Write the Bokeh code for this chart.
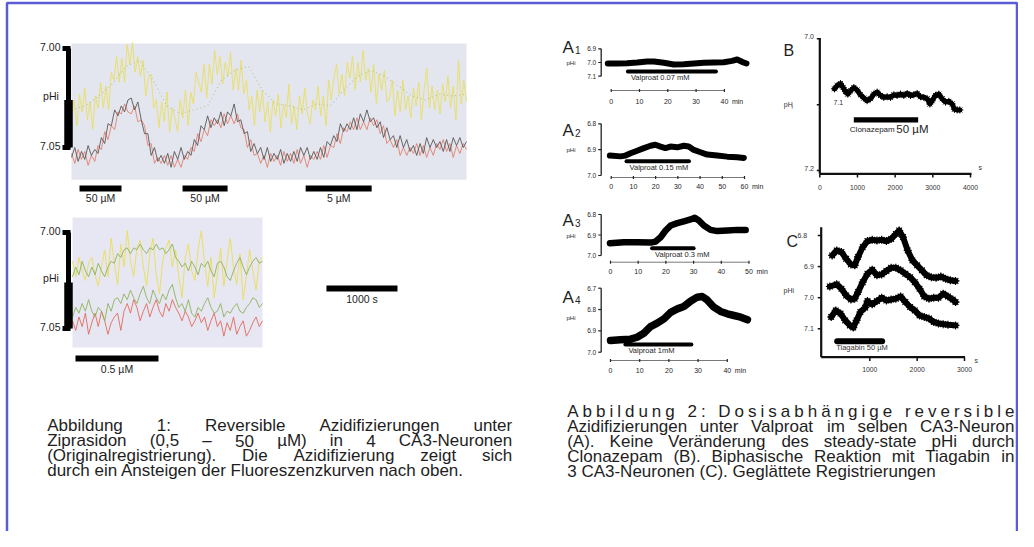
import numpy as np
from bokeh.plotting import figure
from bokeh.models import Range1d
from bokeh.embed import file_html
from bokeh.resources import INLINE
from bokeh.core.properties import value

FONT = "Liberation Sans"
INK = "#1e1e1e"

# ---------------- Abbildung 1 : upper recording (s, pHi) ----------------
TOP_T_END = 5560
TOP_YELLOW = [7.035, 7.026, 7.039, 7.023, 7.032, 7.020, 7.036, 7.027, 7.041, 7.024,
              7.030, 7.017, 7.030, 7.019, 7.031, 7.012, 7.016, 7.004, 7.017, 7.005, 7.017, 6.998, 7.008,
              6.997, 7.012, 7.004, 7.014, 7.006, 7.024, 7.015, 7.013, 7.030, 7.026, 7.040, 7.027, 7.037,
              7.022, 7.042, 7.030, 7.035, 7.042, 7.026, 7.035, 7.021, 7.039, 7.022, 7.028, 7.012,
              7.017, 7.022, 7.008, 7.025, 7.008, 7.018, 7.001, 7.013, 7.004, 7.018, 7.007, 7.014,
              7.002, 7.021, 7.010, 7.021, 7.006, 7.023,
              7.016, 7.031, 7.024, 7.039, 7.021, 7.032, 7.021, 7.037, 7.027, 7.042, 7.026, 7.034,
              7.023, 7.040, 7.028,
              7.035, 7.018, 7.038, 7.029, 7.041, 7.024, 7.033, 7.020, 7.033, 7.038, 7.026, 7.031,
              7.019, 7.034, 7.024, 7.039, 7.016, 7.026, 7.015, 7.008,
              7.023, 7.013, 7.024, 7.007, 7.015, 7.004, 7.021, 7.007, 7.017, 7.001, 7.016, 7.010,
              7.022, 7.008, 7.028, 7.013, 7.021, 7.011, 7.027,
              7.025, 7.016, 7.034, 7.021, 7.032, 7.016, 7.031, 7.024, 7.035, 7.020, 7.029, 7.017,
              7.036, 7.021, 7.010, 7.030,
              7.019, 7.031, 7.021, 7.033, 7.018, 7.027, 7.014, 7.030, 7.019, 7.036, 7.006, 7.028,
              7.016, 7.027]
TOP_GREEN = [7.031, 7.029, 7.024, 7.018, 7.009, 7.006, 7.016, 7.029, 7.033, 7.031,
             7.029, 7.016, 7.011, 7.009, 7.021, 7.028, 7.029, 7.031, 7.028, 7.029,
             7.021, 7.014, 7.011, 7.014, 7.019, 7.024, 7.026, 7.023, 7.024, 7.023]
TOP_DARK = [7.055, 7.050, 7.057, 7.052, 7.056, 7.049, 7.054, 7.051,
            7.053, 7.045, 7.048, 7.038, 7.039, 7.031, 7.034, 7.029, 7.032, 7.026,
            7.025, 7.031, 7.027, 7.036, 7.043, 7.043, 7.054, 7.050, 7.057, 7.054, 7.058,
            7.053, 7.060, 7.052, 7.056, 7.050, 7.056, 7.052, 7.054, 7.046, 7.049,
            7.039, 7.041, 7.034, 7.040, 7.035, 7.038, 7.032, 7.039, 7.032, 7.034, 7.028, 7.037, 7.036, 7.043,
            7.042, 7.052, 7.048, 7.053, 7.050, 7.056, 7.050, 7.057, 7.053, 7.056, 7.051, 7.058,
            7.053, 7.057, 7.052, 7.057, 7.050, 7.054, 7.050, 7.056, 7.052, 7.056, 7.050, 7.055,
            7.047, 7.049, 7.044, 7.047,
            7.038, 7.042, 7.038, 7.041, 7.035, 7.041, 7.033, 7.037, 7.031, 7.037, 7.035, 7.040,
            7.037, 7.045, 7.040, 7.046,
            7.044, 7.050, 7.044, 7.050, 7.046, 7.052, 7.049, 7.054, 7.048, 7.053, 7.045, 7.050,
            7.046, 7.050, 7.047, 7.052, 7.046, 7.052, 7.045, 7.049, 7.045, 7.050, 7.047]
TOP_RED = [7.053, 7.058, 7.051, 7.056, 7.052, 7.059, 7.054, 7.057,
           7.049, 7.051, 7.042, 7.046, 7.039, 7.041, 7.032, 7.033, 7.028, 7.032,
           7.033, 7.029, 7.037, 7.036, 7.039, 7.049, 7.048, 7.058, 7.055, 7.058, 7.054,
           7.059, 7.054, 7.060, 7.056, 7.060, 7.054, 7.056, 7.050, 7.052, 7.043,
           7.047, 7.041, 7.044, 7.036, 7.039, 7.036, 7.040, 7.033, 7.038, 7.034, 7.038, 7.033, 7.040, 7.041,
           7.050, 7.046, 7.054, 7.053, 7.058, 7.054, 7.060, 7.053, 7.057, 7.054, 7.059, 7.052,
           7.057, 7.053, 7.058, 7.051, 7.058, 7.054, 7.060, 7.054, 7.056, 7.052, 7.056, 7.049,
           7.055, 7.049, 7.050, 7.043,
           7.048, 7.040, 7.042, 7.037, 7.041, 7.035, 7.041, 7.037, 7.041, 7.035, 7.039, 7.036,
           7.043, 7.039, 7.048, 7.046,
           7.050, 7.046, 7.054, 7.050, 7.054, 7.050, 7.053, 7.048, 7.054, 7.049, 7.055, 7.050,
           7.054, 7.048, 7.051, 7.046, 7.052, 7.048, 7.055, 7.049, 7.053, 7.048, 7.051]
TOP_DRUG_START = [113, 1563, 3296]
TOP_DRUG_END = [704, 2197, 4225]
TOP_DRUG_LABEL = ["50 \u00b5M", "50 \u00b5M", "5 \u00b5M"]

# ---------------- Abbildung 1 : lower recording ----------------
BOT_T_END = 2676
BOT_YELLOW = [7.015, 7.023, 7.013, 7.020, 7.025, 7.016, 7.013, 7.022, 7.028, 7.018,
              7.009, 7.023, 7.003, 7.016, 7.027, 7.006, 7.018, 6.999, 7.015, 7.023,
              7.008, 7.004, 7.018, 7.028, 7.011, 7.003, 7.022, 7.032, 7.015, 7.008,
              7.004, 7.018, 7.009, 7.023, 7.034, 7.013, 7.006, 7.020, 7.025, 7.009,
              6.999, 7.016, 7.028, 7.013, 7.034, 7.022, 7.008, 7.028, 7.015, 7.003,
              7.018, 7.027, 7.011, 7.035, 7.023, 7.009, 7.020, 7.030, 7.015, 7.013]
BOT_GREEN_A = [7.023, 7.018, 7.022, 7.015, 7.020, 7.023, 7.018, 7.022, 7.016, 7.020,
               7.023, 7.018, 7.015, 7.016, 7.011, 7.013, 7.009, 7.008, 7.011, 7.008,
               7.009, 7.006, 7.009, 7.011, 7.008, 7.009, 7.006, 7.009, 7.008, 7.011,
               7.009, 7.006, 7.013, 7.015, 7.018, 7.016, 7.020, 7.015, 7.018, 7.022,
               7.016, 7.018, 7.015, 7.020, 7.023, 7.016, 7.015, 7.018, 7.023, 7.025,
               7.020, 7.016, 7.013, 7.018, 7.022, 7.018, 7.015, 7.013, 7.016, 7.015]
BOT_GREEN_B = [7.044, 7.039, 7.042, 7.037, 7.041, 7.035, 7.041, 7.044, 7.039, 7.041,
               7.046, 7.037, 7.041, 7.035, 7.034, 7.037, 7.032, 7.035, 7.030, 7.034,
               7.037, 7.032, 7.028, 7.034, 7.037, 7.030, 7.034, 7.037, 7.032, 7.035,
               7.030, 7.027, 7.034, 7.039, 7.037, 7.041, 7.035, 7.042, 7.044, 7.039,
               7.041, 7.037, 7.034, 7.039, 7.042, 7.041, 7.037, 7.044, 7.041, 7.042,
               7.039, 7.037, 7.041, 7.042, 7.039, 7.037, 7.034, 7.035, 7.039, 7.037]
BOT_RED = [7.046, 7.051, 7.044, 7.049, 7.042, 7.053, 7.047, 7.042, 7.049, 7.041,
           7.046, 7.053, 7.047, 7.044, 7.042, 7.051, 7.041, 7.037, 7.042, 7.035,
           7.039, 7.046, 7.041, 7.037, 7.044, 7.039, 7.035, 7.041, 7.044, 7.037,
           7.041, 7.035, 7.039, 7.042, 7.046, 7.041, 7.044, 7.049, 7.046, 7.042,
           7.047, 7.044, 7.051, 7.046, 7.042, 7.049, 7.046, 7.054, 7.047, 7.051,
           7.044, 7.053, 7.049, 7.046, 7.054, 7.051, 7.047, 7.044, 7.049, 7.046]
BOT_DRUG = (42, 1211, "0.5 \u00b5M")
SCALE_BAR = (3577, 4577, "1000 s")

# ---------------- Abbildung 2 A1-A4 : Valproat (min, pHi) ----------------
A_T = [
    [-1.2, 2.1, 5.6, 9.2, 12.7, 15.1, 18.6, 22.1, 25.6, 29.2, 32.7, 36.2, 39.8, 42.7, 44.5, 46.2, 47.8],
    [-0.6, 4.2, 6.4, 8.7, 11.7, 14.7, 17.7, 19.9, 22.2, 24.4, 26.7, 29.7, 32.7, 34.9, 37.2, 40.2, 43.2, 47.7, 52.2, 56.7, 59.7],
    [-0.2, 4.8, 9.6, 14.5, 16.3, 18.1, 19.9, 21.7, 24.1, 26.5, 28.9, 30.4, 31.9, 33.7, 36.1, 38.6, 42.2, 45.8, 48.8],
    [0, 3.4, 6.9, 9.1, 11.4, 13.7, 16.0, 18.3, 20.6, 22.9, 25.1, 27.4, 29.7, 31.4, 33.1, 35.4, 37.7, 40.0, 42.3, 44.6, 46.9],
]
A_PH = [
    [7.007, 7.007, 7.005, 7.0, 6.993, 6.993, 7.002, 7.015, 7.012, 7.007, 7.002, 7.0, 6.998, 6.988, 6.978, 6.995, 7.007],
    [6.923, 6.926, 6.923, 6.914, 6.904, 6.894, 6.885, 6.881, 6.888, 6.894, 6.888, 6.891, 6.885, 6.888, 6.901, 6.910, 6.919, 6.923, 6.927, 6.929, 6.932],
    [6.940, 6.935, 6.935, 6.937, 6.932, 6.911, 6.878, 6.854, 6.842, 6.833, 6.824, 6.816, 6.829, 6.854, 6.875, 6.881, 6.878, 6.875, 6.875],
    [6.945, 6.942, 6.939, 6.930, 6.911, 6.880, 6.864, 6.844, 6.813, 6.797, 6.786, 6.761, 6.742, 6.739, 6.755, 6.789, 6.809, 6.820, 6.828, 6.836, 6.848],
]
A_BAR = [(5.9, 37.0, 7.066), (6.9, 35.0, 6.945), (15.0, 30.0, 6.965), (5.1, 27.7, 6.964)]
A_LABEL = ["Valproat 0.07 mM", "Valproat 0.15 mM", "Valproat 0.3 mM", "Valproat 1mM"]
A_XTICKS = [[0, 10, 20, 30, 40], [0, 10, 20, 30, 40, 50, 60], [0, 10, 20, 30, 40, 50], [0, 10, 20, 30, 40]]
A_YTICKS = [[6.9, 7.0, 7.1], [6.8, 6.9, 7.0], [6.8, 6.9, 7.0], [6.7, 6.8, 6.9, 7.0]]

# ---------------- Abbildung 2 B : Clonazepam (s, pHi) ----------------
B_T = [389, 460, 549, 619, 681, 743, 814, 903, 991, 1080, 1168, 1257, 1345, 1434, 1522, 1611,
       1699, 1788, 1876, 1965, 2053, 2142, 2230, 2319, 2407, 2496, 2584, 2673, 2761, 2850,
       2920, 2982, 3071, 3159, 3248, 3336, 3425, 3513, 3575, 3646, 3717]
B_PH = [7.076, 7.071, 7.068, 7.074, 7.080, 7.084, 7.079, 7.074, 7.078, 7.085, 7.090, 7.094,
        7.091, 7.084, 7.081, 7.086, 7.089, 7.088, 7.089, 7.085, 7.086, 7.084, 7.086, 7.083,
        7.086, 7.085, 7.083, 7.088, 7.089, 7.091, 7.099, 7.094, 7.086, 7.084, 7.091, 7.096,
        7.095, 7.099, 7.107, 7.108, 7.108]
B_BAR = (903, 2611, 7.123)
B_XTICKS = [0, 1000, 2000, 3000, 4000]
B_YTICKS = [7.0, 7.1, 7.2]

# ---------------- Abbildung 2 C : Tiagabin, 3 neurons (s, pHi) ----------------
C1_T = [204, 300, 400, 500, 600, 680, 750, 850, 950, 1050, 1150, 1250, 1350, 1450, 1550, 1620,
        1700, 1800, 1900, 2000, 2100, 2200, 2300, 2400, 2500, 2600, 2700, 2810]
C1_PH = [6.864, 6.848, 6.853, 6.875, 6.893, 6.896, 6.869, 6.837, 6.818, 6.814, 6.816, 6.814,
         6.818, 6.811, 6.795, 6.784, 6.805, 6.848, 6.880, 6.896, 6.912, 6.928, 6.934, 6.936,
         6.932, 6.939, 6.944, 6.946]
C2_T = [155, 300, 400, 500, 600, 680, 750, 850, 950, 1050, 1150, 1250, 1350, 1450, 1550, 1650,
        1750, 1850, 1950, 2050, 2150, 2250, 2350, 2450, 2550, 2650, 2750, 2810]
C2_PH = [6.964, 6.957, 6.971, 6.993, 7.006, 7.003, 6.982, 6.950, 6.923, 6.910, 6.928, 6.925,
         6.914, 6.904, 6.904, 6.912, 6.923, 6.934, 6.950, 6.971, 6.996, 7.003, 7.000, 7.000,
         6.987, 6.996, 7.006, 7.014]
C3_T = [183, 280, 380, 480, 580, 650, 720, 800, 900, 950, 1050, 1150, 1250, 1350, 1450, 1550,
        1650, 1750, 1850, 1950, 2050, 2150, 2250, 2350, 2450, 2550, 2650, 2810]
C3_PH = [7.062, 7.041, 7.051, 7.073, 7.089, 7.096, 7.073, 7.046, 7.032, 7.011, 7.021, 7.011,
         7.000, 7.009, 7.006, 7.003, 6.996, 7.014, 7.030, 7.041, 7.057, 7.062, 7.067, 7.078,
         7.083, 7.085, 7.087, 7.089]
C_BAR = (310, 1260, 7.14)
C_XTICKS = [1000, 2000, 3000]
C_YTICKS = [6.8, 6.9, 7.0, 7.1]

CAPTION_1 = ["Abbildung 1: Reversible Azidifizierungen unter",
             "Ziprasidon (0,5 \u2013 50 \u00b5M) in 4 CA3-Neuronen",
             "(Originalregistrierung). Die Azidifizierung zeigt sich",
             "durch ein Ansteigen der Fluoreszenzkurven nach oben."]
CAPTION_2 = ["Abbildung 2: Dosisabh\u00e4ngige reversible",
             "Azidifizierungen unter Valproat im selben CA3-Neuron",
             "(A). Keine Ver\u00e4nderung des steady-state pHi durch",
             "Clonazepam (B). Biphasische Reaktion mit Tiagabin in",
             "3 CA3-Neuronen (C). Gegl\u00e4ttete Registrierungen"]

# ======================================================================
p = figure(width=1018, height=531, x_range=Range1d(0, 1018), y_range=Range1d(531, 0),
           x_axis_location=None, y_axis_location=None, toolbar_location=None,
           output_backend="svg", min_border=0, background_fill_color="white")
p.xgrid.visible = False
p.ygrid.visible = False
p.outline_line_color = None

PIX = (0, 1000)


def sub(xs, xt, ys, yt):
    return p.subplot(x_source=Range1d(*xs), x_target=Range1d(*xt),
                     y_source=Range1d(*ys), y_target=Range1d(*yt))


def put(g, xs, ys, texts, size, align="left", baseline="middle", color=INK, xoff=0, yoff=0):
    g.text(x=list(xs), y=list(ys), text=list(texts), text_font=value(FONT),
           text_font_size=f"{size}px", text_align=align, text_baseline=baseline,
           text_color=color, x_offset=xoff, y_offset=yoff)


def seg(g, x0, y0, x1, y1, w=1.0, color="black", cap="butt"):
    g.segment(x0=list(x0), y0=list(y0), x1=list(x1), y1=list(y1),
              line_width=w, line_color=color, line_cap=cap)


# frame
p.quad(left=[6.5], right=[1016.5], top=[2.5], bottom=[560], fill_color=None,
       line_color="#5b5bd6", line_width=2.5)


# ---------- Abb. 1 ----------
def left_panel(t_end, xt, yt, bg_ph, bg_col, traces, bracket_x):
    m = sub((0, t_end), xt, (7.00, 7.05), yt)
    mp = sub((0, t_end), xt, PIX, PIX)
    pm = sub(PIX, PIX, (7.00, 7.05), yt)
    m.quad(left=[0], right=[t_end], top=[bg_ph[0]], bottom=[bg_ph[1]],
           fill_color=bg_col, line_color=None)
    for vals, col, w, dash, alpha in traces:
        tt = np.linspace(0, t_end, len(vals))
        m.line(tt, vals, line_color=col, line_width=w, line_dash=dash, line_alpha=alpha)
    # bracket-shaped pH axis
    seg(pm, [bracket_x], [7.00], [bracket_x], [7.05], w=5)
    seg(pm, [bracket_x], [7.026], [bracket_x], [7.05], w=8.5)
    seg(pm, [bracket_x - 6, bracket_x - 6], [7.00, 7.05], [bracket_x + 2, bracket_x + 2],
        [7.00, 7.05], w=5)
    put(pm, [bracket_x - 8, bracket_x - 8], [7.00, 7.05], ["7.00", "7.05"], 10.5,
        align="right", yoff=-1.5)
    return m, mp


top, top_p = left_panel(TOP_T_END, (71, 466), (48, 147), (6.9975, 7.0663), "#e3e6ee",
                        [(TOP_YELLOW, "#e9df62", 1.0, "solid", 0.9),
                         (TOP_GREEN, "#93ad45", 1.2, "1 3", 0.5),
                         (TOP_RED, "#e37a66", 1.0, "solid", 0.85),
                         (TOP_DARK, "#555050", 1.0, "solid", 0.85)], 68)
put(p, [50.5], [95], ["pHi"], 10.5, align="center")
seg(top_p, TOP_DRUG_START, [188] * 3, TOP_DRUG_END, [188] * 3, w=6)
put(top_p, [(a + b) / 2 for a, b in zip(TOP_DRUG_START, TOP_DRUG_END)], [197.5] * 3,
    TOP_DRUG_LABEL, 10.5, align="center")

bot, bot_p = left_panel(BOT_T_END, (72, 262), (232, 328), (6.9922, 7.0599), "#e7e7f3",
                        [(BOT_YELLOW, "#eade5c", 1.0, "solid", 0.95),
                         (BOT_GREEN_A, "#8fb25a", 1.0, "solid", 0.9),
                         (BOT_RED, "#e26a5c", 1.0, "solid", 0.9),
                         (BOT_GREEN_B, "#8fb25a", 1.0, "solid", 0.9)], 68)
put(p, [50.5], [277], ["pHi"], 10.5, align="center")
seg(bot_p, [BOT_DRUG[0]], [358], [BOT_DRUG[1]], [358], w=6)
put(bot_p, [(BOT_DRUG[0] + BOT_DRUG[1]) / 2], [368], [BOT_DRUG[2]], 10.5, align="center")
seg(bot_p, [SCALE_BAR[0]], [288], [SCALE_BAR[1]], [288], w=6)
put(bot_p, [(SCALE_BAR[0] + SCALE_BAR[1]) / 2], [298], [SCALE_BAR[2]], 10.5, align="center")

# ---------- Abb. 2 A1-A4 ----------
A_GEOM = [
    dict(xp=(610.7, 723.9), yp=(48.3, 75.7), xax=90.0, xlab=100.7, tag=47.3, phi=62.3, lw=6.0),
    dict(xp=(610.7, 744.0), yp=(123.3, 175.0), xax=177.0, xlab=185.5, tag=130.0, phi=149.0, lw=6.0),
    dict(xp=(610.0, 748.5), yp=(214.0, 255.0), xax=261.7, xlab=271.0, tag=220.0, phi=235.7, lw=6.5),
    dict(xp=(610.0, 726.8), yp=(287.7, 351.7), xax=360.0, xlab=370.0, tag=297.0, phi=317.3, lw=7.5),
]
YAX = 600.7
for i, g in enumerate(A_GEOM):
    xt, yt = A_XTICKS[i], A_YTICKS[i]
    m = sub((xt[0], xt[-1]), g["xp"], (yt[0], yt[-1]), g["yp"])
    mp = sub((xt[0], xt[-1]), g["xp"], PIX, PIX)
    pm = sub(PIX, PIX, (yt[0], yt[-1]), g["yp"])
    seg(pm, [YAX], [yt[0]], [YAX], [yt[-1]], w=1.3, color="#222")
    seg(pm, [YAX - 3] * len(yt), yt, [YAX] * len(yt), yt, w=1.2, color="#222")
    put(pm, [YAX - 5] * len(yt), yt, [f"{v:.1f}" for v in yt], 6.5, align="right")
    seg(mp, [xt[0]], [g["xax"]], [xt[-1]], [g["xax"]], w=0.8, color="#555")
    seg(mp, xt, [g["xax"] - 1.5] * len(xt), xt, [g["xax"] + 1.5] * len(xt), w=1.2, color="#222")
    put(mp, xt, [g["xlab"]] * len(xt), [str(v) for v in xt], 7, align="center")
    put(p, [g["xp"][1] + 7.5], [g["xlab"]], ["min"], 7)
    m.line(A_T[i], A_PH[i], line_color="black", line_width=g["lw"],
           line_join="round", line_cap="round")
    b0, b1, bph = A_BAR[i]
    seg(m, [b0], [bph], [b1], [bph], w=4, cap="round")
    put(m, [b0], [bph], [A_LABEL[i]], 7.5, xoff=3, yoff=6)
    put(p, [562], [g["tag"]], ["A"], 17, baseline="alphabetic")
    put(p, [574.6], [g["tag"] + 2.2], [str(i + 1)], 10, baseline="alphabetic")
    put(p, [566], [g["phi"]], ["pHi"], 6)

# ---------- Abb. 2 B ----------
bm = sub((0, 4000), (819.3, 970), (7.0, 7.2), (38.3, 170))
bmp = sub((0, 4000), (819.3, 970), PIX, PIX)
bpm = sub(PIX, PIX, (7.0, 7.2), (38.3, 170))
seg(p, [819.3, 819.3], [37.5, 173.3], [819.3, 971], [173.3, 173.3], w=2.2, color="#111")
seg(bpm, [816.3] * 3, B_YTICKS, [819.3] * 3, B_YTICKS, w=1.5, color="#111")
put(bpm, [813.5, 833, 813.5], B_YTICKS, ["7.0", "7.1", "7.2"], 7, align=["right", "left", "right"],
    color="#333", yoff=-2)
seg(bmp, B_XTICKS, [173.3] * 5, B_XTICKS, [177] * 5, w=1.5, color="#111")
put(bmp, B_XTICKS, [186.7] * 5, [str(v) for v in B_XTICKS], 6.8, align="center", color="#333")
put(p, [978], [167], ["s"], 7, color="#333")
put(p, [783.3], [104], ["pH"], 7, color="#333")
put(p, [791.3], [106.5], ["i"], 4.5, color="#333")
put(p, [783], [49.5], ["B"], 16, baseline="alphabetic")
bm.line(B_T, B_PH, line_color="black", line_width=5, line_join="round", line_cap="round")
bm.scatter(B_T, B_PH, marker="asterisk", size=7, line_color="black", line_width=1)
seg(bm, [B_BAR[0]], [B_BAR[2]], [B_BAR[1]], [B_BAR[2]], w=5.3)
put(bm, [B_BAR[0]], [B_BAR[2]], ["Clonazepam"], 8, xoff=-4, yoff=9.3)
put(bm, [B_BAR[0]], [B_BAR[2]], ["50 \u00b5M"], 11.5, xoff=42.5, yoff=9.3)

# ---------- Abb. 2 C ----------
cm = sub((0, 3000), (822, 964), (6.8, 7.1), (235, 328.3))
cmp = sub((0, 3000), (822, 964), PIX, PIX)
cpm = sub(PIX, PIX, (6.8, 7.1), (235, 328.3))
seg(p, [820.7, 820.7], [226.7, 356.7], [820.7, 964.5], [356.7, 356.7], w=2.2, color="#111")
seg(cpm, [817.2] * 4, C_YTICKS, [820.7] * 4, C_YTICKS, w=1.5, color="#111")
put(cpm, [813.3] * 4, C_YTICKS, [f"{v:.1f}" for v in C_YTICKS], 7, align="right",
    color="#333", xoff=[-6.6, 0, 0, 0])
seg(cmp, C_XTICKS, [356.7] * 3, C_XTICKS, [360.5] * 3, w=1.5, color="#111")
put(cmp, C_XTICKS, [369.3] * 3, [str(v) for v in C_XTICKS], 6.8, align="center", color="#333")
put(p, [974], [360], ["s"], 7, color="#333")
put(p, [783], [290], ["pHi"], 7, color="#333")
put(p, [786], [240.5], ["C"], 16, baseline="alphabetic")
for tt, vv in ((C1_T, C1_PH), (C2_T, C2_PH), (C3_T, C3_PH)):
    cm.line(tt, vv, line_color="black", line_width=6, line_join="round", line_cap="round")
    cm.scatter(tt, vv, marker="asterisk", size=8, line_color="black", line_width=1.2)
seg(cm, [C_BAR[0]], [C_BAR[2]], [C_BAR[1]], [C_BAR[2]], w=6, cap="round")
put(cm, [C_BAR[0]], [C_BAR[2]], ["Tiagabin 50 \u00b5M"], 7.5, xoff=-1, yoff=6.3, color="#333")

# ---------- captions (justified) ----------
CW = {" ": 278, "(": 333, ")": 333, ",": 278, "-": 333, ".": 278, ":": 278,
      "\u2013": 556, "\u00b5": 556, "\u00e4": 556}
for c in "0123456789":
    CW[c] = 556
CW.update(dict(A=667, B=667, C=722, D=722, E=667, F=611, G=778, H=722, K=667, M=833, N=722,
               O=778, P=667, R=722, S=667, T=611, V=667, Z=611))
CW.update(dict(a=556, b=556, c=500, d=556, e=556, f=278, g=556, h=556, i=222, j=222, k=500,
               l=222, m=833, n=556, o=556, p=556, q=556, r=333, s=500, t=278, u=556, v=500,
               w=722, x=500, y=500, z=500))


def tw(s, size):
    return sum(CW.get(c, 556) for c in s) * size / 1000.0


def caption(lines, left, right, y0, dy, size, letter_first=False):
    xs, ys, ts = [], [], []
    for i, line in enumerate(lines):
        y = y0 + i * dy
        if i == len(lines) - 1:
            xs.append(left); ys.append(y); ts.append(line)
            continue
        parts = list(line) if (letter_first and i == 0) else line.split(" ")
        widths = [tw(w, size) for w in parts]
        gap = (right - left - sum(widths)) / (len(parts) - 1)
        x = left
        for w, wd in zip(parts, widths):
            if w.strip():
                xs.append(x); ys.append(y); ts.append(w)
            x += wd + gap
    put(p, xs, ys, ts, size, baseline="alphabetic", color=INK)


caption(CAPTION_1, 46.7, 511.7, 425, 15, 17)
caption(CAPTION_2, 566.7, 1014, 410.7, 15, 17, letter_first=True)

open("out.html", "w").write(file_html(p, INLINE))
